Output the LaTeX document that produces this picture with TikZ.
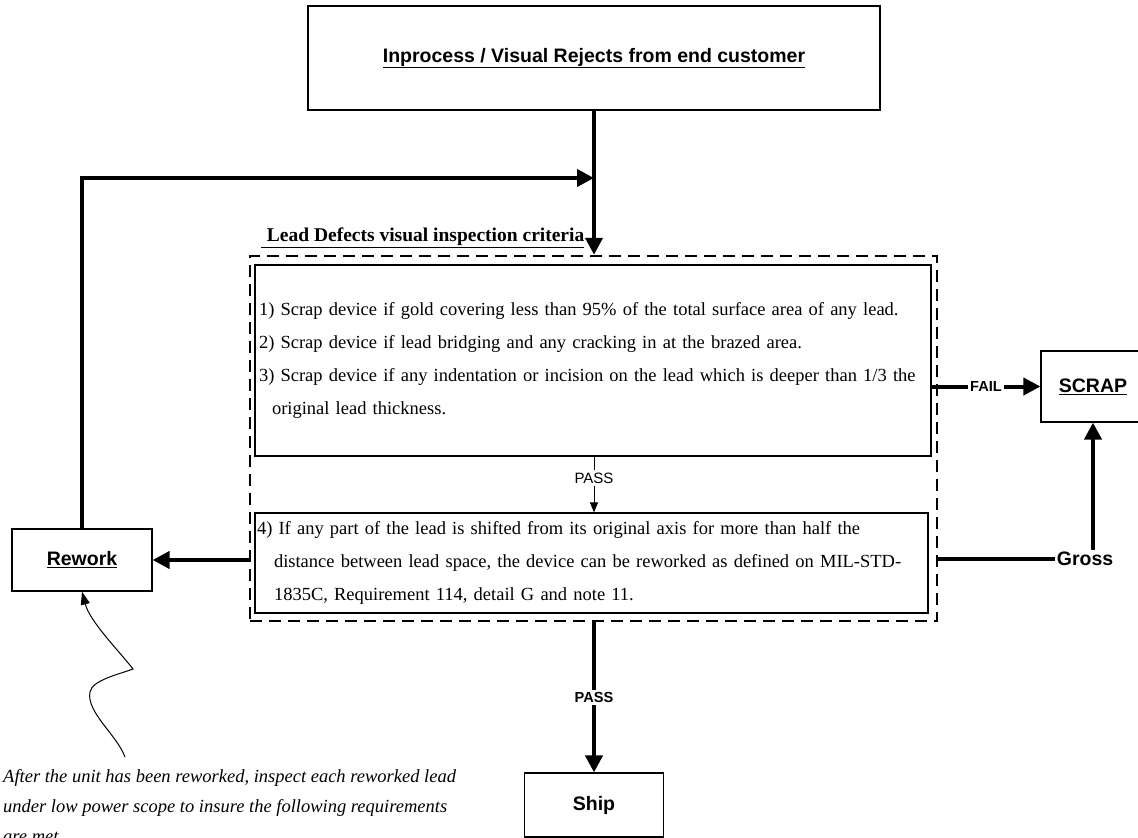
\documentclass[tikz,border=0pt]{standalone}
\usepackage{fontspec}
\setmainfont{Liberation Serif}
\setsansfont{Liberation Sans}
\usetikzlibrary{arrows.meta,positioning}

\begin{document}
\begin{tikzpicture}[x=1pt, y=-1pt,
        box/.style={draw, line width=1.2pt, font=\sffamily\bfseries\fontsize{19.5}{23}\selectfont},
        crit/.style={draw, line width=1.2pt, align=left, font=\fontsize{18.5}{33}\selectfont},
        tag/.style={font=\sffamily\bfseries\fontsize{14.6}{17}\selectfont, inner sep=2pt},
        flow/.style={line width=4pt, -{Triangle[length=17pt, width=17pt]}}]

        \useasboundingbox (0,0) rectangle (1138,838);
        \clip (0,0) rectangle (1138,838);

        \node[box, minimum width=572pt, minimum height=104pt] (reject) at (594,58) {\underline{Inprocess / Visual Rejects from end customer}};

        \node[draw, dash pattern=on 12pt off 7pt, line width=2.5pt, minimum width=687pt, minimum height=365pt] (frame) at (593.5,438.5) {};
        \node[font=\bfseries\fontsize{19.5}{23}\selectfont, anchor=base west, inner sep=0pt] (title) at ([xshift=12pt, yshift=13pt]frame.north west) {\underline{\hspace{6pt}Lead Defects visual inspection criteria}};

        \node[crit, text width=668pt, inner xsep=4pt, minimum height=191pt] (scrapcrit) at (593,360.5) {1) Scrap device if gold covering less than 95\% of the total surface area of any lead.\\
            2) Scrap device if lead bridging and any cracking in at the brazed area.\\
            3) Scrap device if any indentation or incision on the lead which is deeper than 1/3 the\\
            \hspace*{13pt}original lead thickness.};
        \node[crit, text width=669pt, inner xsep=2pt, minimum height=100pt] (reworkcrit) at (591.5,563) {4) If any part of the lead is shifted from its original axis for more than half the\\
            \hspace*{17pt}distance between lead space, the device can be reworked as defined on MIL-STD-\\
            \hspace*{17pt}1835C, Requirement 114, detail G and note 11.};

        \node[box, minimum width=104pt, minimum height=71pt] (scrap) at (1093,386.5) {\underline{SCRAP}};
        \node[box, minimum width=140pt, minimum height=62pt] (rework) at (82,560) {\underline{Rework}};
        \node[box, minimum width=139pt, minimum height=64pt] (ship) at (594,805) {Ship};

        \node[tag] (fail) at (986,386.5) {FAIL};
        \node[tag, font=\sffamily\fontsize{15}{17}\selectfont] (midpass) at (594,478) {PASS};
        \node[font=\sffamily\bfseries\fontsize{19.5}{23}\selectfont, inner sep=2pt] (gross) at (1085,559) {Gross};

        \node[font=\itshape\fontsize{18.5}{30}\selectfont, align=left, anchor=north west, inner sep=0pt] (note) at (3,769) {After the unit has been reworked, inspect each reworked lead\\under low power scope to insure the following requirements\\are met.};

        \coordinate (merge) at (594,178);
        \coordinate (tail) at (125,757);

        \draw[flow] (reject.south) -- (reject.south |- frame.north);
        \draw[flow] (rework.north) |- (merge);

        \draw[line width=4pt] (scrapcrit.east |- scrap.west) -- (fail.west);
        \draw[flow] (fail.east) -- (scrap.west);

        \draw[line width=0.8pt] (scrapcrit.south -| midpass) -- (midpass.north);
        \draw[line width=0.8pt, -{Triangle[length=10pt, width=8pt]}] (midpass.south) -- (midpass.south |- reworkcrit.north);

        \draw[flow] (frame.west |- rework.east) -- (rework.east);
        \draw[line width=4pt] (frame.east |- gross.west) -- (gross.west);
        \draw[flow] (gross.north -| scrap.south) -- (scrap.south);

        \draw[flow] (frame.south -| ship.north) -- node[tag, fill=white] {PASS} (ship.north);

        \draw[line width=1pt, -{Triangle[length=13pt, width=9pt]}] (tail) .. controls (117,735) and (86,712) .. (90,692) .. controls (92,680) and (120,674) .. (133,669) .. controls (120,652) and (90,622) .. (rework.south);

    \end{tikzpicture}
\end{document}
